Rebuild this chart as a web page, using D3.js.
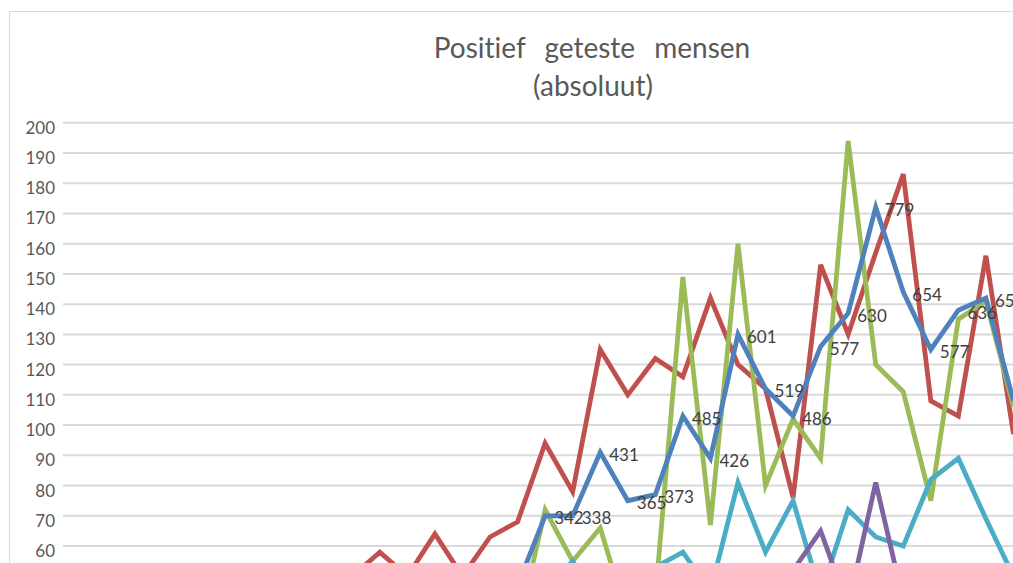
<!DOCTYPE html>
<html>
<head>
<meta charset="utf-8">
<script src="https://cdn.jsdelivr.net/npm/d3@7"></script>
<style>
  body { margin: 0; background: #fff; }
  svg { display: block; }
  text { font-variant-ligatures: none; }
</style>
</head>
<body>
<div id="vis-svg"></div>
<script>
// chart size (the picture is a crop of a wider Excel chart)
var width = 1013,
  height = 563,
  plotLeft = 63,
  plotRight = 1165;

// categories (days) - only the first 35 are visible in the crop
var days = ["1","2","3","4","5","6","7","8","9","10","11","12","13","14","15","16","17","18","19","20",
            "21","22","23","24","25","26","27","28","29","30","31","32","33","34","35","36","37","38","39","40"];

// series values (values below ~55 are cut off and estimated)
var redValues    = [10,14,17,20,24,28,33,36,40,44,50,58,50,64,50,63,68,94,78,125,110,122,116,142,120,112,76,153,130,157,183,108,103,156,97];
var greenValues  = [2,3,3,4,5,6,8,9,11,12,14,16,18,20,24,28,32,72,55,66,36,43,149,67,160,80,102,89,194,120,111,75,135,141,106];
var blueValues   = [3,4,5,6,8,10,12,14,17,20,23,26,30,34,38,42,47,70,70,91,75,77,103,89,130,112,103,126,137,172,144,125,138,142,108];
var cyanValues   = [1,1,2,2,3,4,5,6,7,8,10,12,14,16,20,24,30,45,55,40,42,53,58,45,81,58,75,44,72,63,60,82,89,69,50];
var purpleValues = [0,0,0,1,1,1,2,2,3,3,4,5,6,7,8,10,12,14,16,18,20,24,28,30,34,40,52,65,40,81,42,38,36,34,32];

// data labels shown next to the blue series
var blueLabels = [null,null,null,null,null,null,null,null,null,null,null,null,null,null,null,null,null,
                  "342","338","431","365","373","485","426","601","519","486","577","630","779","654","577","636","653",null];

var yTicks = [0,10,20,30,40,50,60,70,80,90,100,110,120,130,140,150,160,170,180,190,200];

var series = [
  {name: "rood",  values: redValues,    color: "#c0504d"},
  {name: "groen", values: greenValues,  color: "#9bbb59"},
  {name: "cyaan", values: cyanValues,   color: "#4bacc6"},
  {name: "paars", values: purpleValues, color: "#8064a2"},
  {name: "blauw", values: blueValues,   color: "#4f81bd"}
];

var font = "Lato, 'Open Sans', sans-serif";

var svg = d3.select("#vis-svg").append("svg")
  .attr("width", width)
  .attr("height", height);

// chart border
svg.append("rect")
  .attr("x", 9.5).attr("y", 11.5)
  .attr("width", 1300).attr("height", 800)
  .style("fill", "#fff")
  .style("stroke", "#d9d9d9");

// title
var title = svg.append("text")
  .attr("text-anchor", "middle")
  .style("font-family", font)
  .style("font-size", "28px")
  .style("fill", "#595959");
title.append("tspan").attr("x", 592).attr("y", 57.5)
  .style("word-spacing", "12px")
  .text("Positief geteste mensen");
title.append("tspan").attr("x", 593).attr("y", 96)
  .text("(absoluut)");

var x = d3.scalePoint()
  .domain(days)
  .range([plotLeft, plotRight])
  .padding(0.5);

var y = d3.scaleLinear()
  .domain([0, 200])
  .range([727.5, 122.7]);

// gridlines
svg.append("g")
  .selectAll("line")
  .data(yTicks).enter()
  .append("line")
  .attr("x1", plotLeft).attr("x2", plotRight)
  .attr("y1", function(d) { return y(d); })
  .attr("y2", function(d) { return y(d); })
  .style("stroke", "#d9d9d9")
  .style("stroke-width", 2);

// y axis labels (only the ones inside the cropped picture)
var yAxis = svg.append("g")
  .attr("transform", "translate(" + (plotLeft - 8) + ",0)")
  .call(d3.axisLeft(y)
    .tickValues(yTicks.filter(function(d) { return y(d) + 12 < height; }))
    .tickSize(0).tickPadding(0));
yAxis.select(".domain").remove();
yAxis.selectAll("text")
  .attr("dy", "0.62em")
  .style("font-family", font)
  .style("font-size", "17px")
  .style("fill", "#595959");

// lines
var line = d3.line()
  .x(function(d, i) { return x(days[i]); })
  .y(function(d) { return y(d); });

svg.selectAll(".series")
  .data(series).enter()
  .append("path")
  .attr("class", "series")
  .attr("d", function(s) { return line(s.values); })
  .style("fill", "none")
  .style("stroke", function(s) { return s.color; })
  .style("stroke-width", 4.8)
  .style("stroke-linejoin", "miter")
  .style("stroke-miterlimit", 4);

// data labels on the blue series
svg.append("g")
  .selectAll("text")
  .data(blueLabels.map(function(l, i) { return {label: l, i: i}; })
    .filter(function(d) { return d.label; }))
  .enter().append("text")
  .attr("x", function(d) { return x(days[d.i]) + 9; })
  .attr("y", function(d) { return y(blueValues[d.i]); })
  .attr("dy", "0.5em")
  .style("font-family", font)
  .style("font-size", "17px")
  .style("fill", "#404040")
  .text(function(d) { return d.label; });
</script>
</body>
</html>
